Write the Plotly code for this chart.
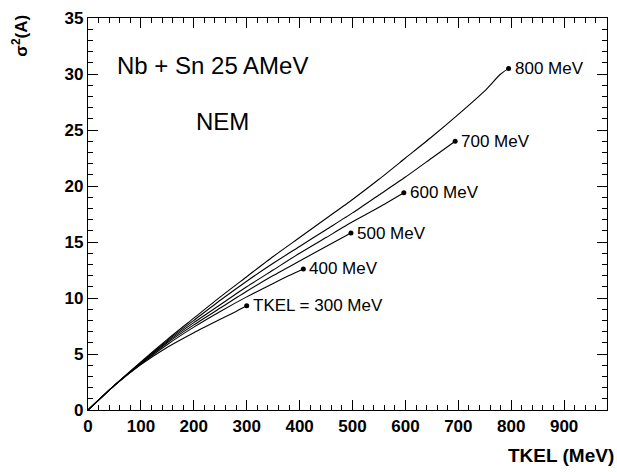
import plotly.graph_objects as go

# TKEL curves: sigma^2(A) vs TKEL (MeV), Nb + Sn 25 AMeV, NEM
x_800 = [0, 50, 100, 150, 200, 250, 300, 350, 400, 450, 500, 550, 600, 650, 700, 750, 780, 795]
y_800 = [0, 2.2, 4.3, 6.3, 8.2, 10.1, 11.9, 13.7, 15.4, 17.1, 18.8, 20.6, 22.5, 24.4, 26.4, 28.5, 30.0, 30.5]

x_700 = [0, 50, 100, 150, 200, 250, 300, 350, 400, 450, 500, 550, 600, 650, 694]
y_700 = [0, 2.2, 4.25, 6.2, 8.0, 9.8, 11.5, 13.1, 14.6, 16.1, 17.6, 19.2, 20.8, 22.5, 24.0]

x_600 = [0, 50, 100, 150, 200, 250, 300, 350, 400, 450, 500, 550, 597]
y_600 = [0, 2.2, 4.2, 6.1, 7.8, 9.4, 11.0, 12.5, 14.0, 15.4, 16.8, 18.1, 19.4]

x_500 = [0, 50, 100, 150, 200, 250, 300, 350, 400, 450, 497]
y_500 = [0, 2.2, 4.15, 6.0, 7.6, 9.1, 10.6, 12.0, 13.3, 14.6, 15.8]

x_400 = [0, 50, 100, 150, 200, 250, 300, 350, 380, 407]
y_400 = [0, 2.2, 4.1, 5.85, 7.4, 8.8, 10.1, 11.3, 12.0, 12.6]

x_300 = [0, 50, 100, 150, 200, 250, 280, 300]
y_300 = [0, 2.2, 4.05, 5.6, 6.9, 8.1, 8.8, 9.3]

curve_labels = ["TKEL = 300 MeV", "400 MeV", "500 MeV", "600 MeV", "700 MeV", "800 MeV"]
x_ticks = [0, 100, 200, 300, 400, 500, 600, 700, 800, 900]
y_ticks = [0, 5, 10, 15, 20, 25, 30, 35]

curves = [(x_300, y_300), (x_400, y_400), (x_500, y_500),
          (x_600, y_600), (x_700, y_700), (x_800, y_800)]

FONT = "Liberation Sans, Arial, Helvetica"

fig = go.Figure()
for (xs, ys), lab in zip(curves, curve_labels):
    fig.add_trace(go.Scatter(x=xs, y=ys, mode="lines",
                             line=dict(color="black", width=1.1, shape="spline", smoothing=0.6),
                             showlegend=False, hoverinfo="skip"))
    fig.add_trace(go.Scatter(x=[xs[-1]], y=[ys[-1]], mode="markers",
                             marker=dict(color="black", size=5),
                             showlegend=False, hoverinfo="skip"))
    fig.add_annotation(x=xs[-1], y=ys[-1], text=lab, showarrow=False,
                       xanchor="left", yanchor="middle", xshift=4,
                       font=dict(family=FONT, size=17, color="black"))

fig.add_annotation(xref="paper", yref="paper", x=0.052, y=0.88, text="Nb + Sn 25 AMeV",
                   showarrow=False, xanchor="left", yanchor="middle",
                   font=dict(family=FONT, size=24, color="black"))
fig.add_annotation(xref="paper", yref="paper", x=0.204, y=0.737, text="NEM",
                   showarrow=False, xanchor="left", yanchor="middle",
                   font=dict(family=FONT, size=24, color="black"))
fig.add_annotation(xref="paper", yref="paper", x=-0.131, y=0.955, text="<b>σ<sup>2</sup>(A)</b>",
                   showarrow=False, textangle=-90, xanchor="center", yanchor="middle",
                   font=dict(family=FONT, size=17, color="black"))
fig.add_annotation(xref="paper", yref="paper", x=1.0173, y=-0.115, text="<b>TKEL (MeV)</b>",
                   showarrow=False, xanchor="right", yanchor="middle",
                   font=dict(family=FONT, size=19, color="black"))

axis_common = dict(showgrid=False, zeroline=False, showline=True, linecolor="black",
                   linewidth=1.2, mirror="ticks", ticks="inside", ticklen=10,
                   tickcolor="black", tickwidth=1,
                   tickfont=dict(family=FONT, size=17, color="black", weight="bold"))

fig.update_xaxes(range=[0, 981], tickvals=x_ticks, ticktext=[str(v) for v in x_ticks],
                 minor=dict(dtick=20, ticks="inside", ticklen=5, tickcolor="black", tickwidth=1),
                 **axis_common)
fig.update_yaxes(range=[0, 35], tickvals=y_ticks, ticktext=[str(v) for v in y_ticks],
                 minor=dict(dtick=1, ticks="inside", ticklen=5, tickcolor="black", tickwidth=1),
                 **axis_common)

fig.update_layout(width=617, height=472, margin=dict(l=88, r=9, t=10, b=62),
                  plot_bgcolor="white", paper_bgcolor="white")

fig.write_html("out.html")
